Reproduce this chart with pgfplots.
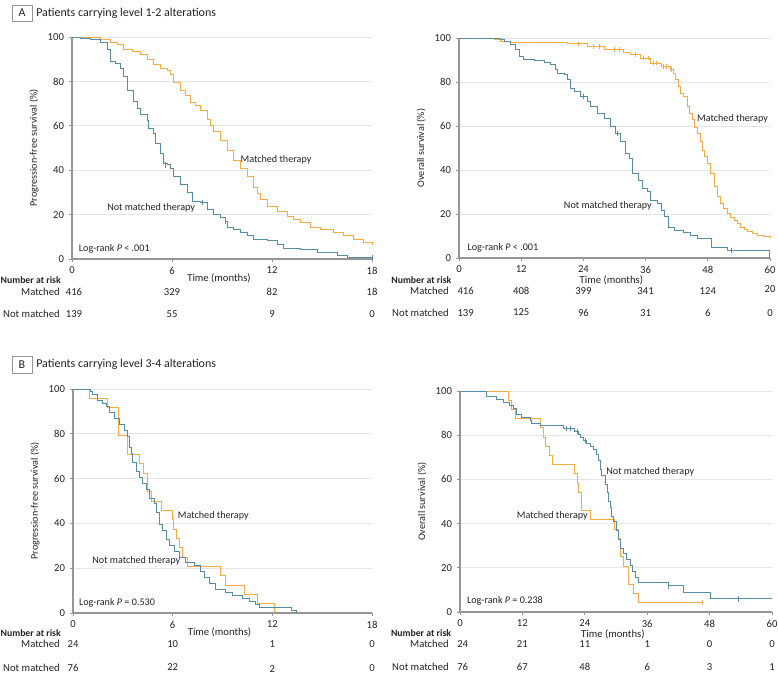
\documentclass[border=0pt]{standalone}
\usepackage{fontspec}
\setmainfont{Carlito}
\usepackage{pgfplots}
\pgfplotsset{compat=1.18}
\definecolor{korange}{RGB}{247,169,66}
\definecolor{kblue}{RGB}{86,140,165}
\definecolor{axgray}{RGB}{150,150,150}
\definecolor{txt}{RGB}{35,35,35}
\newcommand{\fs}{\fontsize{7.6}{9}\selectfont}
\newcommand{\ft}{\fontsize{8}{9.6}\selectfont}
\newcommand{\fb}{\fontsize{7.3}{9}\selectfont\bfseries}
\pgfplotsset{
 km/.style={
  scale only axis, axis lines=left, axis line style={-, draw=axgray, line width=0.9pt},
  tick style={draw=axgray, line width=0.6pt}, tick align=outside, major tick length=2.5pt,
  ymin=0, ymax=100, ytick={0,20,40,60,80,100}, xmin=0,
  ymajorgrids, grid style={draw=black!10, line width=0.6pt},
  clip=false,
  tick label style={font=\ft, text=txt},
  label style={font=\fs, text=txt},
  every axis plot/.append style={const plot, line width=0.7pt},
  /pgf/number format/assume math mode=true,
 },
}
\tikzset{risk/.style={font=\ft, text=txt, inner sep=0pt},
 ann/.style={anchor=west, font=\fs, text=txt, inner sep=0pt}}
\begin{document}
\begin{tikzpicture}
\useasboundingbox (0,0) rectangle (583.5pt,506.25pt);
% headers
\draw[axgray, line width=0.6pt] (9pt,490.5pt) rectangle (24pt,502.5pt);
\node[font=\fontsize{9}{10}\selectfont, text=txt] at (16.5pt,496.5pt) {A};
\node[anchor=west, font=\fontsize{9}{10}\selectfont, text=txt, inner sep=0pt] at (27pt,496.5pt) {Patients carrying level 1-2 alterations};
\draw[axgray, line width=0.6pt] (9pt,226.5pt) rectangle (24pt,239.25pt);
\node[font=\fontsize{9}{10}\selectfont, text=txt] at (16.5pt,232.9pt) {B};
\node[anchor=west, font=\fontsize{9}{10}\selectfont, text=txt, inner sep=0pt] at (27pt,232.9pt) {Patients carrying level 3-4 alterations};

% ---------- A left: PFS ----------
\begin{axis}[km, at={(54pt,312pt)}, anchor=south west, width=225pt, height=166.5pt,
  xmax=18, xtick={0,6,12,18}, ylabel={Progression-free survival (\%)}]
\addplot[korange, no marks] coordinates {(0,100) (1.0,99.8) (1.7,98.7) (2.3,97.5) (2.7,96.5) (3.1,94.5) (3.6,93.3) (4.1,92) (4.5,90) (4.9,87.8) (5.3,85.6) (5.7,84.8) (5.9,83) (6.1,79.6) (6.5,76) (6.8,73.5) (7.1,70.7) (7.4,69) (7.7,67) (8.1,63) (8.3,60) (8.5,57.3) (8.9,53.6) (9.3,49) (9.7,44.6) (10.1,41) (10.5,37.2) (10.9,32) (11.1,29.5) (11.3,26.8) (11.7,23.8) (12.3,21.6) (12.9,19.3) (13.3,17.8) (13.7,16.4) (14.3,14.1) (14.9,13.4) (15.7,11.9) (16.3,10.4) (16.9,8.9) (17.5,7.4) (18,6.2)};
\addplot[kblue, no marks] coordinates {(0,100) (0.5,99.5) (1.1,99) (1.7,97.5) (2.1,94.5) (2.3,89) (2.6,88) (2.9,86) (3.1,82) (3.3,76) (3.7,71) (3.9,68) (4.1,65) (4.5,62.5) (4.6,59) (4.9,56.5) (5.0,52) (5.3,47.6) (5.5,43) (5.7,42.4) (5.9,41) (6.1,37) (6.5,33.5) (6.9,29.8) (7.2,26) (7.7,25.3) (8.1,22.3) (8.5,20) (8.9,18.6) (9.2,17) (9.3,14) (9.7,13.4) (10.1,12) (10.5,10.4) (10.9,8.6) (11.7,8.2) (12.3,6.7) (12.7,4.8) (13.7,4.5) (14.7,3) (15.9,1.5) (16.5,0.8) (18,0.8)};
\addplot[kblue, only marks, mark=|, mark size=2pt, mark options={line width=0.6pt}] coordinates {(5.6,42.4) (7.8,25.3) (9.2,17) (18,0.8)};
\node[ann] at (axis cs:10.1,44.6) {Matched therapy};
\node[ann] at (axis cs:2.1,23.2) {Not matched therapy};
\node[ann] at (axis cs:0.4,4.5) {Log-rank \textit{P} < .001};
\node[risk] at ([yshift=-14.25pt]rel axis cs:0.49,0) {Time (months)};
\node[risk, anchor=east, font=\fb] at ([xshift=-8.25pt,yshift=-16pt]rel axis cs:0,0) {Number at risk};
\node[risk, anchor=east] at ([xshift=-9pt,yshift=-24.5pt]rel axis cs:0,0) {Matched};
\node[risk, anchor=east] at ([xshift=-9pt,yshift=-41.5pt]rel axis cs:0,0) {Not matched};
\node[risk] at ([xshift=1.5pt,yshift=-24.5pt]axis cs:0,0) {416};
\node[risk] at ([yshift=-24.5pt]axis cs:6,0) {329};
\node[risk] at ([yshift=-24.5pt]axis cs:12,0) {82};
\node[risk] at ([yshift=-24.5pt]axis cs:18,0) {18};
\node[risk] at ([xshift=1.5pt,yshift=-41.5pt]axis cs:0,0) {139};
\node[risk] at ([yshift=-41.5pt]axis cs:6,0) {55};
\node[risk] at ([yshift=-41.5pt]axis cs:12,0) {9};
\node[risk] at ([yshift=-41.5pt]axis cs:18,0) {0};
\end{axis}

% ---------- A right: OS ----------
\begin{axis}[km, at={(344.25pt,312.75pt)}, anchor=south west, width=233.25pt, height=165pt,
  xmax=60, xtick={0,12,24,36,48,60}, ylabel={Overall survival (\%)}]
\addplot[korange, no marks] coordinates {(0,100) (6.75,99.5) (8,98.5) (10,98) (15.8,98) (20.9,97.7) (22.8,97.3) (24.8,96.2) (28,94.7) (31.8,93.5) (33.1,92.4) (35,90.9) (37,88.6) (39,87.1) (40.8,85.6) (41.3,84) (41.8,81) (42.3,78) (42.8,74.9) (43.4,73.4) (44,68.8) (44.5,65.8) (45,62.8) (45.5,59.5) (46,56.7) (46.5,52.8) (46.9,49.1) (47.4,46) (47.9,43) (48.6,38.4) (49.2,32.4) (49.8,27.8) (50.5,24.8) (51.1,22.4) (51.8,20.2) (52.4,18.6) (53.1,17.2) (53.7,15.6) (54.3,14.1) (55,13) (55.6,11.9) (56.6,11) (57.6,10.3) (58.8,9.6) (60,9.3)};
\addplot[kblue, no marks] coordinates {(0,100) (8.0,99.5) (8.7,98.5) (10,97) (10.9,94.7) (11.6,91.6) (12.5,90.4) (14.5,89.7) (16.4,89) (17.7,87.8) (18.6,85.6) (19,84) (20.3,83.3) (20.9,81) (21.5,77.2) (22.2,75.7) (23.5,73.4) (24.8,71.1) (25.4,68.8) (26.7,65.8) (28,63.5) (29.3,59.7) (30.2,56.7) (31.2,52.9) (32.2,47.6) (32.8,45.3) (33.4,38.4) (34.7,35.4) (35.4,31.6) (36.3,30.1) (37,26.3) (38.3,24.8) (39,21.7) (39.6,18.7) (40.5,14.1) (41.5,12.6) (43.4,11.6) (44.7,10.3) (46,9.1) (48.7,4.7) (51.8,3.5) (59.8,0) (60,0)};
\addplot[korange, only marks, mark=|, mark size=1.8pt, mark options={line width=0.5pt}] coordinates {(23,97.3) (26,96.2) (27,96.2) (30,94.7) (31,94.7) (34,92.4) (35.5,90.9) (36.5,90.9) (37.5,88.6) (38,88.6) (39.5,87.1) (40,87.1) (41,85.6)};
\addplot[kblue, only marks, mark=|, mark size=1.8pt, mark options={line width=0.5pt}] coordinates {(24,73.4) (30.5,56.7) (52.5,3.5)};
\node[ann] at (axis cs:45.9,63.2) {Matched therapy};
\node[ann] at (axis cs:20.2,23.6) {Not matched therapy};
\node[ann] at (axis cs:1.6,4.5) {Log-rank \textit{P} < .001};
\node[risk] at ([yshift=-16.5pt]rel axis cs:0.49,0) {Time (months)};
\node[risk, anchor=east, font=\fb] at ([xshift=-5.5pt,yshift=-16.5pt]rel axis cs:0,0) {Number at risk};
\node[risk, anchor=east] at ([xshift=-7.5pt,yshift=-25pt]rel axis cs:0,0) {Matched};
\node[risk, anchor=east] at ([xshift=-7.5pt,yshift=-41.5pt]rel axis cs:0,0) {Not matched};
\node[risk] at ([xshift=5pt,yshift=-25pt]axis cs:0,0) {416};
\node[risk] at ([yshift=-25pt]axis cs:12,0) {408};
\node[risk] at ([yshift=-25pt]axis cs:24,0) {399};
\node[risk] at ([yshift=-25pt]axis cs:36,0) {341};
\node[risk] at ([yshift=-25pt]axis cs:48,0) {124};
\node[risk] at ([yshift=-23.25pt]axis cs:60,0) {20};
\node[risk] at ([xshift=5pt,yshift=-41.5pt]axis cs:0,0) {139};
\node[risk] at ([yshift=-40.25pt]axis cs:12,0) {125};
\node[risk] at ([yshift=-41.5pt]axis cs:24,0) {96};
\node[risk] at ([yshift=-41.5pt]axis cs:36,0) {31};
\node[risk] at ([yshift=-41.5pt]axis cs:48,0) {6};
\node[risk] at ([yshift=-41.5pt]axis cs:60,0) {0};
\end{axis}

% ---------- B left: PFS ----------
\begin{axis}[km, at={(54.75pt,46.5pt)}, anchor=south west, width=224.25pt, height=168pt,
  xmax=18, xtick={0,6,12,18}, ylabel={Progression-free survival (\%)}]
\addplot[korange, no marks] coordinates {(0,100) (1.0,95.8) (2.1,91.7) (2.75,79.2) (3.3,70.8) (4.0,66.7) (4.25,62.5) (4.5,54.2) (4.7,50) (5.3,45.8) (6.0,41.7) (6.05,37.5) (6.2,33.3) (6.4,29.2) (6.6,25) (6.9,20.8) (8.9,16.7) (9.2,12.5) (10.3,8.3) (11.1,4.2) (12.15,0)};
\addplot[kblue, no marks] coordinates {(0,100) (1.04,98.7) (1.2,97.4) (1.5,94.7) (1.8,93.4) (2.0,92.1) (2.2,89.5) (2.5,86.8) (2.8,84.2) (3.1,81.6) (3.3,78.9) (3.4,73.7) (3.5,71) (3.6,67.1) (3.8,63.2) (4.0,60.5) (4.2,57.9) (4.4,55.3) (4.6,51.3) (4.9,48.7) (5.0,44.7) (5.2,39.5) (5.4,36.8) (5.6,32.9) (5.8,30.3) (6.1,27.6) (6.4,25) (6.8,22.4) (7.3,21.1) (7.7,18.4) (7.9,15.8) (8.2,13.2) (8.6,10.5) (9.2,9.2) (9.6,7.9) (10.2,6.6) (10.6,5.3) (11.0,3.9) (11.2,2.6) (13.15,1.3) (13.45,0)};
\node[ann] at (axis cs:6.3,43.3) {Matched therapy};
\node[ann] at (axis cs:1.15,23.2) {Not matched therapy};
\node[ann] at (axis cs:0.35,4.5) {Log-rank \textit{P} = 0.530};
\node[risk] at ([yshift=-14.25pt]rel axis cs:0.49,0) {Time (months)};
\node[risk, anchor=east, font=\fb] at ([xshift=-9pt,yshift=-15pt]rel axis cs:0,0) {Number at risk};
\node[risk, anchor=east] at ([xshift=-9.75pt,yshift=-23.5pt]rel axis cs:0,0) {Matched};
\node[risk, anchor=east] at ([xshift=-9.75pt,yshift=-41pt]rel axis cs:0,0) {Not matched};
\node[risk] at ([yshift=-23.5pt]axis cs:0,0) {24};
\node[risk] at ([yshift=-23.5pt]axis cs:6,0) {10};
\node[risk] at ([yshift=-23.5pt]axis cs:12,0) {1};
\node[risk] at ([yshift=-23.5pt]axis cs:18,0) {0};
\node[risk] at ([yshift=-41pt]axis cs:0,0) {76};
\node[risk] at ([yshift=-40.5pt]axis cs:6,0) {22};
\node[risk] at ([yshift=-42.25pt]axis cs:12,0) {2};
\node[risk] at ([yshift=-41pt]axis cs:18,0) {0};
\end{axis}

% ---------- B right: OS ----------
\begin{axis}[km, at={(345pt,47.25pt)}, anchor=south west, width=234pt, height=165.75pt,
  xmax=60, xtick={0,12,24,36,48,60}, ylabel={Overall survival (\%)}]
\addplot[korange, no marks] coordinates {(0,100) (9.3,95.8) (9.95,91.7) (10.6,87.5) (15.4,83.3) (16.0,79.2) (16.4,75) (17.3,70.8) (17.8,66.7) (22.1,62.5) (22.5,58.3) (22.8,54.2) (23.4,45.8) (25.0,41.7) (29.8,37.5) (30.4,33.3) (30.8,25) (31.5,20.8) (32.4,12.5) (33.4,8.3) (34.3,4.2) (46.7,4.2)};
\addplot[kblue, no marks] coordinates {(0,100) (5.1,97.4) (7.1,96.1) (8.3,94.7) (9.6,93.4) (10.3,92.1) (10.9,89.5) (11.9,88.2) (13.5,86.8) (13.8,85.5) (15.4,84.2) (19.9,82.9) (22.1,81.6) (22.8,80.3) (23.1,78.9) (23.7,77.6) (24.4,76.3) (25,75) (25.7,73.7) (26.3,71.1) (26.6,68.4) (27.0,64.5) (27.3,61.8) (27.9,57.9) (28.3,53.9) (28.6,50) (28.9,47.4) (29.2,43.4) (29.5,40.8) (30.0,36.8) (30.5,32.9) (30.9,28.9) (31.5,26.3) (32.1,23.7) (32.7,21.1) (33.2,18.4) (33.7,15.8) (34.3,13.2) (40.1,11.8) (42.9,8.8) (48.1,5.9) (60,5.9)};
\addplot[kblue, only marks, mark=|, mark size=2pt, mark options={line width=0.6pt}] coordinates {(20.5,82.9) (21.2,82.9) (22.5,81.6) (24.1,77.6) (40.1,11.8) (53.5,5.9)};
\addplot[korange, only marks, mark=|, mark size=2pt, mark options={line width=0.6pt}] coordinates {(46.7,4.2)};
\node[ann] at (axis cs:28.1,63.3) {Not matched therapy};
\node[ann] at (axis cs:10.9,43.4) {Matched therapy};
\node[ann] at (axis cs:1.3,5) {Log-rank \textit{P} = 0.238};
\node[risk] at ([yshift=-16.5pt]rel axis cs:0.49,0) {Time (months)};
\node[risk, anchor=east, font=\fb] at ([xshift=-6.5pt,yshift=-16pt]rel axis cs:0,0) {Number at risk};
\node[risk, anchor=east] at ([xshift=-8.25pt,yshift=-24pt]rel axis cs:0,0) {Matched};
\node[risk, anchor=east] at ([xshift=-8.25pt,yshift=-41pt]rel axis cs:0,0) {Not matched};
\node[risk] at ([xshift=2pt,yshift=-24pt]axis cs:0,0) {24};
\node[risk] at ([yshift=-24pt]axis cs:12,0) {21};
\node[risk] at ([yshift=-24pt]axis cs:24,0) {11};
\node[risk] at ([yshift=-24pt]axis cs:36,0) {1};
\node[risk] at ([yshift=-24pt]axis cs:48,0) {0};
\node[risk] at ([yshift=-24pt]axis cs:60,0) {0};
\node[risk] at ([xshift=2pt,yshift=-41pt]axis cs:0,0) {76};
\node[risk] at ([yshift=-41pt]axis cs:12,0) {67};
\node[risk] at ([yshift=-41pt]axis cs:24,0) {48};
\node[risk] at ([yshift=-41pt]axis cs:36,0) {6};
\node[risk] at ([yshift=-41pt]axis cs:48,0) {3};
\node[risk] at ([yshift=-41pt]axis cs:60,0) {1};
\end{axis}
\end{tikzpicture}
\end{document}
